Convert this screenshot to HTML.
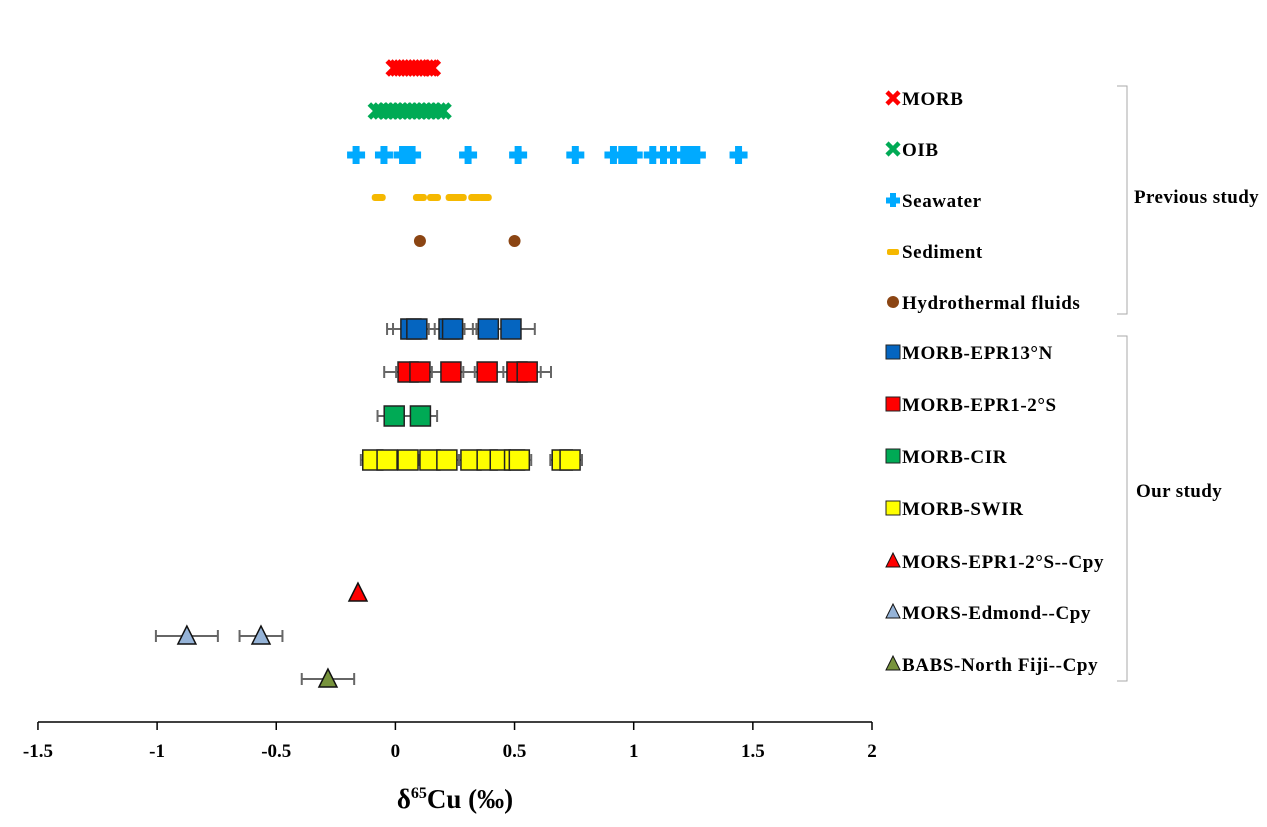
<!DOCTYPE html>
<html><head><meta charset="utf-8"><style>
body{margin:0;background:#fff;}
svg text{font-family:"Liberation Serif",serif;font-weight:bold;}
</style></head><body>
<svg id="c" width="1267" height="822" xmlns="http://www.w3.org/2000/svg"></svg>
<script>
const ticks=[-1.5,-1,-0.5,0,0.5,1,1.5,2];
const morb=[-0.005,0.01,0.025,0.04,0.055,0.07,0.085,0.1,0.115,0.13,0.145,0.155];
const oib=[-0.08,-0.06,-0.04,-0.02,0,0.02,0.04,0.06,0.08,0.1,0.12,0.14,0.16,0.18,0.2];
const seawater=[-0.165,-0.048,0.03,0.053,0.07,0.305,0.515,0.755,0.915,0.95,0.977,1.0,1.08,1.125,1.167,1.21,1.23,1.25,1.265,1.44];
const sediment=[-0.07,0.103,0.162,0.24,0.27,0.335,0.375];
const fluids=[0.103,0.5];
const epr13=[0.065,0.09,0.225,0.24,0.39,0.485];
const epr12=[0.053,0.103,0.233,0.385,0.51,0.553];
const cir=[-0.005,0.105];
const swir=[-0.095,-0.035,0.053,0.145,0.216,0.317,0.385,0.44,0.5,0.52,0.70,0.733];
const errSq=[0.1,0.1,0.07,0.05];
const triEpr=[-0.157];const triEpr_err=[0];
const triEd=[-0.875,-0.564];const triEd_err=[0.13,0.09];
const triFiji=[-0.283];const triFiji_err=[0.11];
const legendLabels=["MORB","OIB","Seawater","Sediment","Hydrothermal fluids","MORB-EPR13°N","MORB-EPR1-2°S","MORB-CIR","MORB-SWIR","MORS-EPR1-2°S--Cpy","MORS-Edmond--Cpy","BABS-North Fiji--Cpy"];

const svg=document.getElementById('c');const NS='http://www.w3.org/2000/svg';
const X=v=>395.4+v*238.3;
function el(t,a,p){const e=document.createElementNS(NS,t);for(const k in a)e.setAttribute(k,a[k]);(p||svg).appendChild(e);return e;}
let ax=el('line',{x1:38,x2:872,y1:722,y2:722,stroke:'#000','stroke-width':1.5});


ticks.forEach(t=>{el('line',{x1:X(t),x2:X(t),y1:722,y2:730,stroke:'#000','stroke-width':1.5});
 const tx=el('text',{x:X(t),y:757,'text-anchor':'middle','font-size':19});tx.textContent=t;
 
 });
const ttl=el('text',{x:455,y:808,'text-anchor':'middle','font-size':27});
ttl.innerHTML='δ<tspan font-size="16" dy="-10">65</tspan><tspan dy="10">Cu (‰)</tspan>';


function xmark(x,y,c,s,w){const g=el('g',{});el('line',{x1:x-s,y1:y-s,x2:x+s,y2:y+s,stroke:c,'stroke-width':w||5},g);el('line',{x1:x-s,y1:y+s,x2:x+s,y2:y-s,stroke:c,'stroke-width':w||5},g);return g;}
function plus(x,y,c){const g=el('g',{});el('rect',{x:x-9,y:y-3.5,width:18,height:7,fill:c},g);el('rect',{x:x-3.5,y:y-9,width:7,height:18,fill:c},g);return g;}
function err(x,y,e){if(!e)return;el('line',{x1:X(x-e),x2:X(x+e),y1:y,y2:y,stroke:'#666','stroke-width':2});[x-e,x+e].forEach(v=>el('line',{x1:X(v),x2:X(v),y1:y-6,y2:y+6,stroke:'#666','stroke-width':2}));}
function square(x,y,c){return el('rect',{x:x-10,y:y-10,width:20,height:20,fill:c,stroke:'#222','stroke-width':1.5});}
function tri(x,y,c){return el('polygon',{points:`${x},${y-10} ${x-9},${y+8} ${x+9},${y+8}`,fill:c,stroke:'#111','stroke-width':1.5});}
function tag(e,n){}
morb.forEach(v=>{const m=xmark(X(v),68,'#f00',7);tag(m,'morb-point');});
oib.forEach(v=>{const m=xmark(X(v),111,'#0a5',7);tag(m,'oib-point');});
seawater.forEach(v=>{const m=plus(X(v),155,'#0af');tag(m,'seawater-point');});
sediment.forEach(v=>{const m=el('rect',{x:X(v)-7,y:194,width:14,height:7,rx:3,fill:'#f5b800'});tag(m,'sediment-point');});
fluids.forEach(v=>{const m=el('circle',{cx:X(v),cy:241,r:6,fill:'#8b4513'});tag(m,'fluid-point');});
[[epr13,329,'#0565c0',errSq[0]],[epr12,372,'#f00',errSq[1]],[cir,416,'#0a5',errSq[2]],[swir,460,'#ff0',errSq[3]]].forEach(([a,y,c,e])=>{
 a.forEach(v=>err(v,y,e));a.forEach(v=>{const m=square(X(v),y,c);tag(m,'square-point');});});
[[triEpr,triEpr_err,593,'#f00'],[triEd,triEd_err,636,'#95b3d7'],[triFiji,triFiji_err,679,'#77933c']].forEach(([a,e,y,c])=>{
 a.forEach((v,i)=>err(v,y,e[i]));a.forEach(v=>{const m=tri(X(v),y,c);tag(m,'triangle-point');});});
const ly=[99,150,201,252,303,353,405,457,509,562,613,665];
legendLabels.forEach((l,i)=>{const y=ly[i];const x=893;let m;
 if(i==0)m=xmark(x,y-1,'#f00',6,4.5);else if(i==1)m=xmark(x,y-1,'#0a5',6,4.5);else if(i==2){m=el('g',{});el('rect',{x:x-7,y:y-3.5,width:14,height:6,fill:'#0af'},m);el('rect',{x:x-3,y:y-8,width:6,height:14,fill:'#0af'},m);}
 else if(i==3)m=el('rect',{x:x-6,y:y-3,width:12,height:6,rx:2,fill:'#f5b800'});else if(i==4)m=el('circle',{cx:x,cy:y-1,r:6,fill:'#8b4513'});
 else if(i<9)m=el('rect',{x:x-7,y:y-8,width:14,height:14,fill:['#0565c0','#f00','#0a5','#ff0'][i-5],stroke:'#222'});
 else m=el('polygon',{points:`${x},${y-9} ${x-7},${y+5} ${x+7},${y+5}`,fill:['#f00','#95b3d7','#77933c'][i-9],stroke:'#111'});
 tag(m,'legend-marker');
 const t=el('text',{x:902,y:y+6,'font-size':19,'letter-spacing':0.6});t.textContent=l;
 
 });
[[86,314,'Previous study',1134,203],[336,681,'Our study',1136,497]].forEach(([a,b,l,tx,ty])=>{
 el('polyline',{points:`1117,${a} 1127,${a} 1127,${b} 1117,${b}`,fill:'none',stroke:'#aaa','stroke-width':1});
 const t=el('text',{x:tx,y:ty,'font-size':19,'letter-spacing':0.4});t.textContent=l;
 
 });
</script></body></html>
